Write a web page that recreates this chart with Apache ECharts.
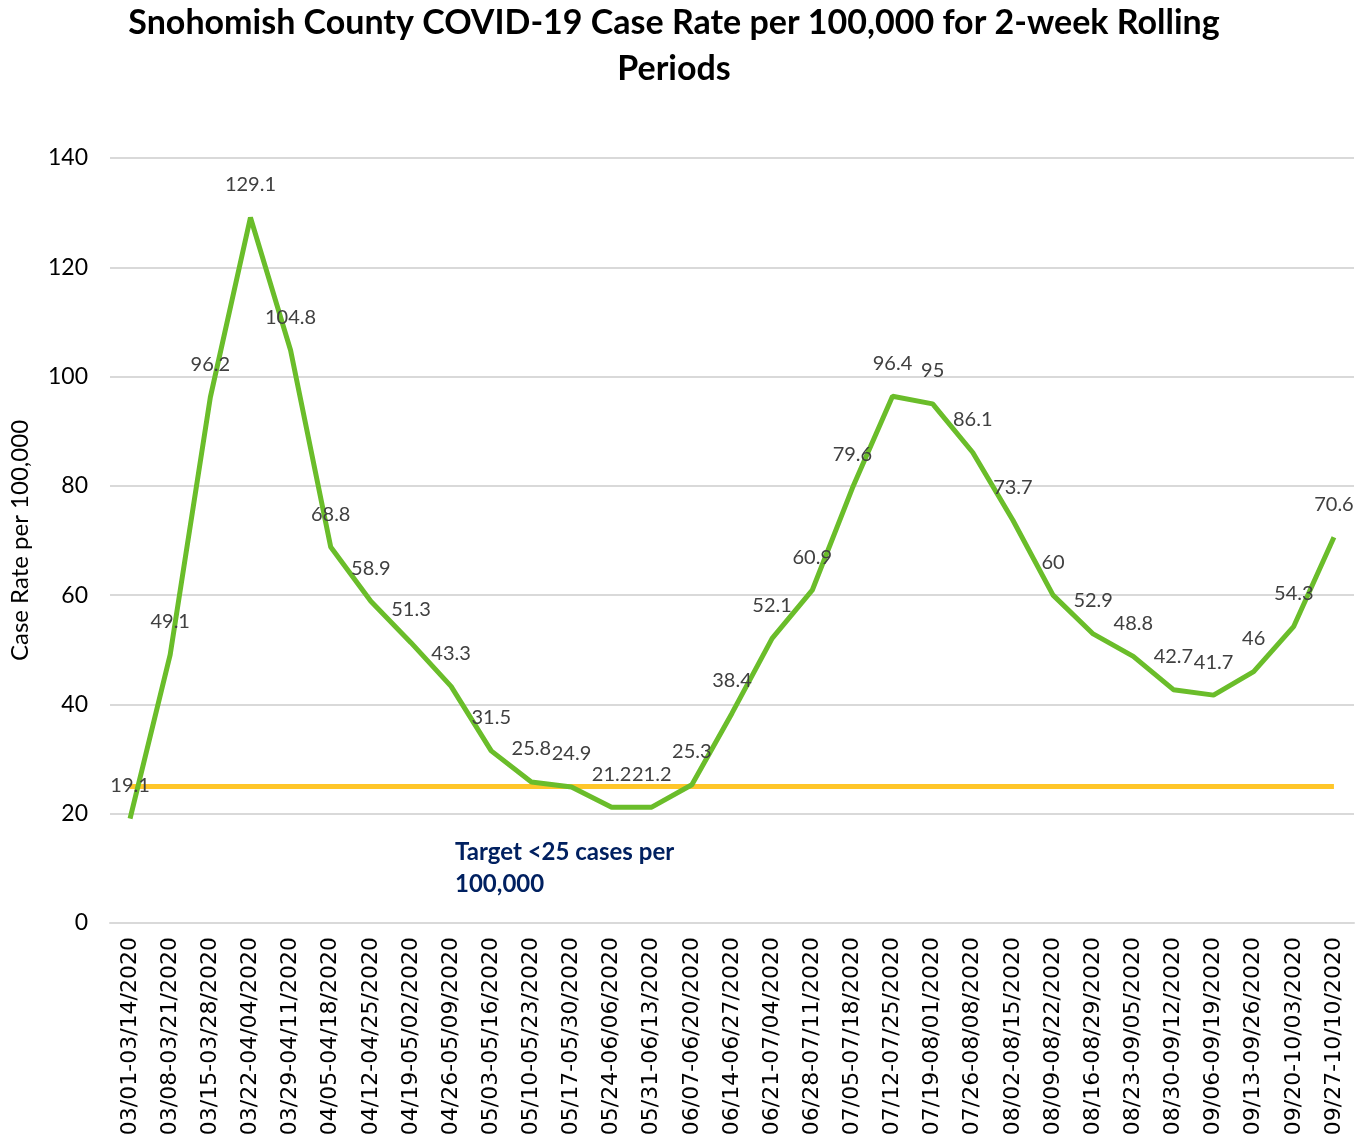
<!DOCTYPE html>
<html>
<head>
<meta charset="utf-8">
<script src="https://cdn.jsdelivr.net/npm/echarts@6/dist/echarts.min.js"></script>
<style>
html,body{margin:0;padding:0;background:#fff;}
#chart{width:1371px;height:1146px;}
</style>
</head>
<body>
<div id="chart"></div>
<script>
const categories = ["03/01-03/14/2020","03/08-03/21/2020","03/15-03/28/2020","03/22-04/04/2020","03/29-04/11/2020","04/05-04/18/2020","04/12-04/25/2020","04/19-05/02/2020","04/26-05/09/2020","05/03-05/16/2020","05/10-05/23/2020","05/17-05/30/2020","05/24-06/06/2020","05/31-06/13/2020","06/07-06/20/2020","06/14-06/27/2020","06/21-07/04/2020","06/28-07/11/2020","07/05-07/18/2020","07/12-07/25/2020","07/19-08/01/2020","07/26-08/08/2020","08/02-08/15/2020","08/09-08/22/2020","08/16-08/29/2020","08/23-09/05/2020","08/30-09/12/2020","09/06-09/19/2020","09/13-09/26/2020","09/20-10/03/2020","09/27-10/10/2020"];
const caseRate = [19.1,49.1,96.2,129.1,104.8,68.8,58.9,51.3,43.3,31.5,25.8,24.9,21.2,21.2,25.3,38.4,52.1,60.9,79.6,96.4,95,86.1,73.7,60,52.9,48.8,42.7,41.7,46,54.3,70.6];
const targetValue = 25;
const targetLine = categories.map(() => targetValue);
const yTicks = {min: 0, max: 140, interval: 20};

const chart = echarts.init(document.getElementById('chart'));
chart.setOption({
  animation: false,
  backgroundColor: '#fff',
  title: {
    text: 'Snohomish County COVID-19 Case Rate per 100,000 for 2-week Rolling\nPeriods',
    left: 674,
    top: 0,
    textAlign: 'center',
    padding: 0,
    textStyle: {fontFamily: 'Lato', fontWeight: 'bold', fontSize: 34, color: '#000', lineHeight: 46}
  },
  grid: {left: 108, right: 17, top: 158, bottom: 223},
  xAxis: {
    type: 'category',
    data: categories,
    boundaryGap: true,
    axisLine: {show: true, lineStyle: {color: '#d9d9d9', width: 2}},
    axisTick: {show: false},
    axisLabel: {rotate: 90, interval: 0, fontFamily: 'DejaVu Sans', fontSize: 22, color: '#000', margin: 14}
  },
  yAxis: {
    type: 'value',
    min: yTicks.min, max: yTicks.max, interval: yTicks.interval,
    name: 'Case Rate per 100,000',
    nameLocation: 'middle',
    nameGap: 78,
    nameTextStyle: {fontFamily: 'Lato', fontSize: 24, color: '#000'},
    axisLine: {show: false},
    axisTick: {show: false},
    axisLabel: {fontFamily: 'Lato', fontSize: 23, color: '#000', margin: 22},
    splitLine: {lineStyle: {color: '#d9d9d9', width: 2}}
  },
  graphic: [{
    type: 'text',
    left: 455, top: 836,
    style: {text: 'Target <25 cases per\n100,000', fill: '#002060', font: 'bold 24px Lato', lineHeight: 32}
  }],
  series: [
    {
      name: 'Target',
      type: 'line',
      data: targetLine,
      showSymbol: false,
      symbol: 'none',
      lineStyle: {color: '#FFC629', width: 5},
      z: 3
    },
    {
      name: 'Case Rate',
      type: 'line',
      data: caseRate,
      symbol: 'circle',
      symbolSize: 2,
      showSymbol: true,
      showAllSymbol: true,
      itemStyle: {color: 'rgba(0,0,0,0)', borderWidth: 0},
      lineStyle: {color: '#6ABD2A', width: 5},
      label: {show: true, position: 'top', distance: 22, fontFamily: 'Lato', fontSize: 20, color: '#404040'},
      labelLayout: {hideOverlap: false},
      z: 4
    }
  ]
});
</script>
</body>
</html>
